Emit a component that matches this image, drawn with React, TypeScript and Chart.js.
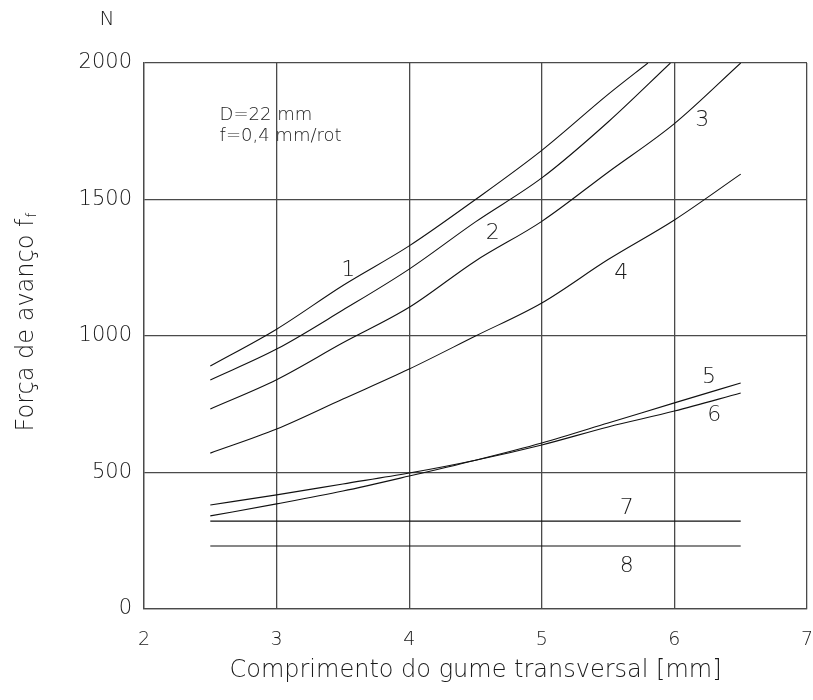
import React, { useEffect, useRef } from "react";
import { Chart, registerables } from "chart.js";

Chart.register(...registerables);

// ---- data ----
const xTicks = [2, 3, 4, 5, 6, 7];
const yTicks = [0, 500, 1000, 1500, 2000];

const x1 = [2.5, 3, 3.5, 4, 4.5, 5, 5.5, 5.8];
const y1 = [890, 1025, 1185, 1330, 1500, 1680, 1885, 2000];

const x2 = [2.5, 3, 3.5, 4, 4.5, 5, 5.5, 5.97];
const y2 = [839, 952, 1095, 1245, 1418, 1579, 1784, 2000];

const x3 = [2.5, 3, 3.5, 4, 4.5, 5, 5.5, 6, 6.5];
const y3 = [733, 840, 975, 1105, 1275, 1420, 1600, 1778, 2000];

const x4 = [2.5, 3, 3.5, 4, 4.5, 5, 5.5, 6, 6.5];
const y4 = [571, 659, 769, 879, 1000, 1121, 1280, 1425, 1593];

const x5 = [2.5, 3, 3.5, 4, 4.5, 5, 5.5, 6, 6.5];
const y5 = [341, 385, 432, 487, 545, 608, 681, 755, 828];

const x6 = [2.5, 3, 3.5, 4, 4.5, 5, 5.5, 6, 6.5];
const y6 = [381, 418, 458, 498, 545, 601, 667, 725, 791];

const x7 = [2.5, 6.5];
const y7 = [322, 322];

const x8 = [2.5, 6.5];
const y8 = [231, 231];

const curveNames = ["1", "2", "3", "4", "5", "6", "7", "8"];
const curveLabelX = [3.54, 4.63, 6.21, 5.6, 6.26, 6.3, 5.64, 5.64];
const curveLabelY = [1242, 1377, 1791, 1231, 850, 711, 370, 158];

const noteLines = ["D=22 mm", "f=0,4 mm/rot"];
const noteX = 2.57;
const noteY = [1810, 1733];

const xTitle = "Comprimento do gume transversal [mm]";
const yTitle = "Força de avanço f";
const yTitleSub = "f";
const yUnit = "N";

const FONT = "'DejaVu Sans', sans-serif";
const TEXT = "#1a1a1a";

const seriesX = [x1, x2, x3, x4, x5, x6, x7, x8];
const seriesY = [y1, y2, y3, y4, y5, y6, y7, y8];

const textPlugin = {
  id: "textPlugin",
  afterDatasetsDraw(chart: any) {
    const { ctx, scales, chartArea } = chart;
    const xs = scales.x;
    const ys = scales.y;
    ctx.save();
    ctx.fillStyle = TEXT;

    // curve labels
    ctx.font = `200 22px ${FONT}`;
    ctx.textAlign = "center";
    ctx.textBaseline = "middle";
    curveNames.forEach((n, i) => {
      ctx.fillText(n, xs.getPixelForValue(curveLabelX[i]), ys.getPixelForValue(curveLabelY[i]));
    });

    // note
    ctx.font = `200 18px ${FONT}`;
    ctx.textAlign = "left";
    noteLines.forEach((t, i) => {
      ctx.fillText(t, xs.getPixelForValue(noteX), ys.getPixelForValue(noteY[i]));
    });

    // unit N
    ctx.font = `200 20px ${FONT}`;
    ctx.textAlign = "center";
    ctx.fillText(yUnit, chartArea.left - 37, chartArea.top - 43);

    // y title with subscript
    ctx.font = `200 24px ${FONT}`;
    const wMain = ctx.measureText(yTitle).width;
    ctx.font = `200 14px ${FONT}`;
    const wSub = ctx.measureText(yTitleSub).width;
    const total = wMain + wSub + 1;
    const cy = (chartArea.top + chartArea.bottom) / 2 - 14;
    ctx.translate(33, cy + total / 2);
    ctx.rotate(-Math.PI / 2);
    ctx.textAlign = "left";
    ctx.textBaseline = "alphabetic";
    ctx.font = `200 24px ${FONT}`;
    ctx.fillText(yTitle, 0, 0);
    ctx.font = `200 14px ${FONT}`;
    ctx.fillText(yTitleSub, wMain + 1, 3);
    ctx.restore();
  },
};

export default function App() {
  const ref = useRef<HTMLCanvasElement | null>(null);

  useEffect(() => {
    document.body.style.margin = "0";
    const canvas = ref.current;
    if (!canvas) return;

    const datasets = seriesX.map((xs, i) => ({
      label: curveNames[i],
      data: xs.map((x, j) => ({ x, y: seriesY[i][j] })),
      borderColor: "#111",
      borderWidth: 1.1,
      pointRadius: 0,
      fill: false,
      cubicInterpolationMode: "monotone" as const,
    }));

    const gridColor = "#4a4a4a";

    const chart = new Chart(canvas, {
      type: "line",
      data: { datasets },
      options: {
        responsive: false,
        animation: false,
        layout: { padding: { top: 63, right: 6, left: 0, bottom: 0 } },
        plugins: {
          legend: { display: false },
          tooltip: { enabled: false },
        },
        scales: {
          x: {
            type: "linear",
            min: 2,
            max: 7,
            afterBuildTicks: (s: any) => {
              s.ticks = xTicks.map((v) => ({ value: v }));
            },
            afterFit: (s: any) => {
              s.height = 91;
              s.paddingLeft = 0;
              s.paddingRight = 0;
            },
            grid: { color: gridColor, lineWidth: 1.3, drawTicks: false },
            border: { color: gridColor, width: 1.3 },
            ticks: {
              padding: 20,
              color: TEXT,
              font: { family: FONT, size: 19, weight: "200" as any },
              maxRotation: 0,
              callback: (v: any) => String(v),
            },
            title: {
              display: true,
              text: xTitle,
              color: TEXT,
              font: { family: FONT, size: 24, weight: "200" as any },
              padding: { top: 0, bottom: 15 },
            },
          },
          y: {
            type: "linear",
            min: 0,
            max: 2000,
            afterBuildTicks: (s: any) => {
              s.ticks = yTicks.map((v) => ({ value: v }));
            },
            afterFit: (s: any) => {
              s.width = 144;
            },
            grid: { color: gridColor, lineWidth: 1.3, drawTicks: false },
            border: { color: gridColor, width: 1.3 },
            ticks: {
              padding: 12,
              color: TEXT,
              font: { family: FONT, size: 21, weight: "200" as any },
              callback: (v: any) => String(v),
            },
          },
        },
      },
      plugins: [textPlugin],
    });

    return () => chart.destroy();
  }, []);

  return (
    <div style={{ width: 813, height: 700 }}>
      <canvas ref={ref} width={813} height={700} style={{ display: "block" }} />
    </div>
  );
}
